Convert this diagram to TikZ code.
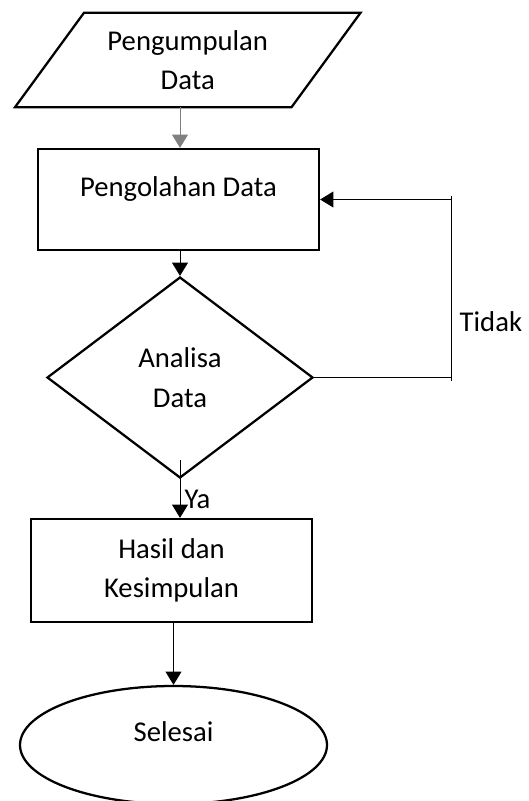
\documentclass[tikz,border=0pt]{standalone}
\usepackage{fontspec}
\setmainfont{Carlito}
\usepackage{tikz}
\usetikzlibrary{shapes.geometric,arrows.meta}
\definecolor{flowgray}{RGB}{128, 128, 128}

\begin{document}
\begin{tikzpicture}[x=0.75pt,y=-0.75pt,
    font=\fontsize{21.5}{29.5}\selectfont,
    shapeline/.style={draw,line width=1.7pt,inner sep=0pt,align=center},
    flow/.style={line width=0.75pt,-{Triangle[length=10pt,width=12pt]}}]
                \useasboundingbox (0,0) rectangle (529,801);

                % Input
                \node[inner sep=0pt,align=center,minimum width=0.75*276pt,minimum height=0.75*94pt]
                      (kumpul) at (187.75,60) {Pengumpulan\\Data};
                \draw[line width=1.7pt,line join=miter]
                      ([xshift=25.9pt]kumpul.north west) -- ([xshift=25.9pt]kumpul.north east)
                      -- ([xshift=-25.9pt]kumpul.south east) -- ([xshift=-25.9pt]kumpul.south west) -- cycle;

                % Process
                \node[shapeline,rectangle,minimum width=0.75*281pt,minimum height=0.75*101pt,text depth=20pt]
                      (olah) at (178.5,199.5) {Pengolahan Data};

                % Decision
                \node[shapeline,diamond,minimum width=0.75*266pt,minimum height=0.75*201pt]
                      (analisa) at (180,377.5) {Analisa\\Data};

                % Result
                \node[shapeline,rectangle,minimum width=0.75*281pt,minimum height=0.75*103pt]
                      (hasil) at (171.5,570.5) {Hasil dan\\Kesimpulan};

                % End
                \node[shapeline,ellipse,minimum width=0.75*307pt,minimum height=0.75*118pt,text depth=20pt]
                      (selesai) at (173.5,745) {Selesai};

                % Arrows
                \draw[flow,draw=flowgray] (kumpul.south -| analisa.north) -- (olah.north -| analisa.north);
                \draw[flow] (olah.south -| analisa.north) -- (analisa.north);
                \draw[flow] ([yshift=14pt]analisa.south) -- (hasil.north -| analisa.south)
                      node[right,pos=0.68,inner sep=3pt] (ya) {Ya};
                \draw[flow] (hasil.south -| selesai.north) -- (selesai.north);

                % Loop back
                \coordinate (looptop) at (451,196);
                \coordinate (loopbot) at (451,381);
                \draw[line width=0.75pt] (analisa.east) -- (analisa.east -| loopbot);
                \draw[line width=0.75pt] (looptop) -- (loopbot);
                \draw[flow] (olah.east -| looptop) -- (olah.east);
                \node[anchor=west] (tidak) at (455,322) {Tidak};
            \end{tikzpicture}
\end{document}
